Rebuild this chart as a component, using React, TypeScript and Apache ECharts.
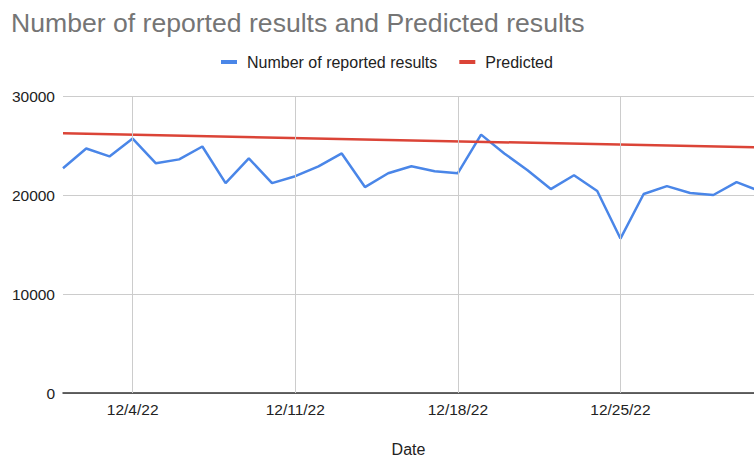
import React, { useEffect, useRef } from "react";
import * as echarts from "echarts";

const dates = [
  "2022-12-01", "2022-12-02", "2022-12-03", "2022-12-04", "2022-12-05", "2022-12-06", "2022-12-07",
  "2022-12-08", "2022-12-09", "2022-12-10", "2022-12-11", "2022-12-12", "2022-12-13", "2022-12-14",
  "2022-12-15", "2022-12-16", "2022-12-17", "2022-12-18", "2022-12-19", "2022-12-20", "2022-12-21",
  "2022-12-22", "2022-12-23", "2022-12-24", "2022-12-25", "2022-12-26", "2022-12-27", "2022-12-28",
  "2022-12-29", "2022-12-30", "2022-12-31",
];
const reported = [
  22700, 24700, 23900, 25700, 23200, 23600, 24900,
  21200, 23700, 21200, 21900, 22900, 24200, 20800,
  22200, 22900, 22400, 22200, 26100, 24200, 22500,
  20600, 22000, 20400, 15600, 20100, 20900, 20200,
  20000, 21300, 20400,
];
const predictedDates = ["2022-12-01", "2022-12-31"];
const predicted = [26230, 24800];
const tickDates = ["2022-12-04", "2022-12-11", "2022-12-18", "2022-12-25"];
const xMinDate = "2022-12-01";
const xMaxDay = 29.75; // days after 12/1 visible at the right edge
const yTicks = [0, 10000, 20000, 30000];

const DAY = 86400000;
const t0 = Date.UTC(2022, 11, 1);
// day offset from Dec 1, 2022
const dayOf = (s: string) => {
  const [y, m, d] = s.split("-").map(Number);
  return (Date.UTC(y, m - 1, d) - t0) / DAY;
};
const fmt = (v: number) => {
  const d = new Date(t0 + Math.round(v) * DAY);
  return `${d.getUTCMonth() + 1}/${d.getUTCDate()}/${String(d.getUTCFullYear()).slice(2)}`;
};

const FONT = "'Liberation Sans', Arial, sans-serif";

export default function App() {
  const ref = useRef<HTMLDivElement>(null);
  useEffect(() => {
    document.body.style.margin = "0";
    const chart = echarts.init(ref.current!, null, { renderer: "svg" });
    chart.setOption({
      animation: false,
      textStyle: { fontFamily: FONT },
      title: {
        text: "Number of reported results and Predicted results",
        left: 6,
        top: 4,
        textStyle: { fontSize: 26.6, fontWeight: "normal", color: "#757575", fontFamily: FONT },
      },
      legend: {
        data: ["Number of reported results", "Predicted"],
        left: 216,
        top: 49,
        icon: "rect",
        itemWidth: 16,
        itemHeight: 4,
        itemGap: 22,
        textStyle: { fontSize: 16, color: "#222", fontFamily: FONT, padding: [0, 0, 0, 5] },
      },
      grid: { left: 63, right: 0, top: 96, bottom: 63, outerBoundsMode: "none", containLabel: false },
      xAxis: {
        type: "value",
        min: dayOf(xMinDate),
        max: xMaxDay,
        name: "Date",
        nameLocation: "middle",
        nameGap: 48,
        nameTextStyle: { fontSize: 16, color: "#222", fontFamily: FONT },
        axisLine: { show: true, onZero: false, lineStyle: { color: "#333", width: 1.5 } },
        axisTick: { show: false },
        splitLine: { show: false },
        axisLabel: {
          customValues: tickDates.map(dayOf),
          fontSize: 15.5,
          color: "#222",
          margin: 8,
          fontFamily: FONT,
          formatter: (v: number) => fmt(v),
        },
      },
      yAxis: {
        type: "value",
        min: yTicks[0],
        max: yTicks[yTicks.length - 1],
        interval: yTicks[1] - yTicks[0],
        axisLine: { show: false },
        axisTick: { show: false },
        axisLabel: {
          fontSize: 15.5,
          color: "#222",
          margin: 8,
          fontFamily: FONT,
          formatter: (v: number) => String(v),
        },
        splitLine: { lineStyle: { color: "#cccccc", width: 1 } },
      },
      series: [
        {
          name: "grid",
          type: "line",
          z: 0,
          data: [[dayOf(dates[0]), 0]],
          showSymbol: false,
          symbolSize: 0,
          lineStyle: { opacity: 0 },
          silent: true,
          markLine: {
            silent: true,
            symbol: ["none", "none"],
            label: { show: false },
            lineStyle: { color: "#cccccc", type: "solid", width: 1 },
            data: tickDates.map((d) => ({ xAxis: dayOf(d) })),
          },
        },
        {
          name: "Number of reported results",
          type: "line",
          z: 3,
          data: dates.map((d, i) => [dayOf(d), reported[i]]),
          showSymbol: false,
          lineStyle: { color: "#4a86e8", width: 2.5 },
          itemStyle: { color: "#4a86e8" },
        },
        {
          name: "Predicted",
          type: "line",
          z: 4,
          data: predictedDates.map((d, i) => [dayOf(d), predicted[i]]),
          showSymbol: false,
          lineStyle: { color: "#db4437", width: 2.5 },
          itemStyle: { color: "#db4437" },
        },
      ],
    });
    return () => chart.dispose();
  }, []);
  return <div ref={ref} style={{ width: 754, height: 456 }} />;
}
